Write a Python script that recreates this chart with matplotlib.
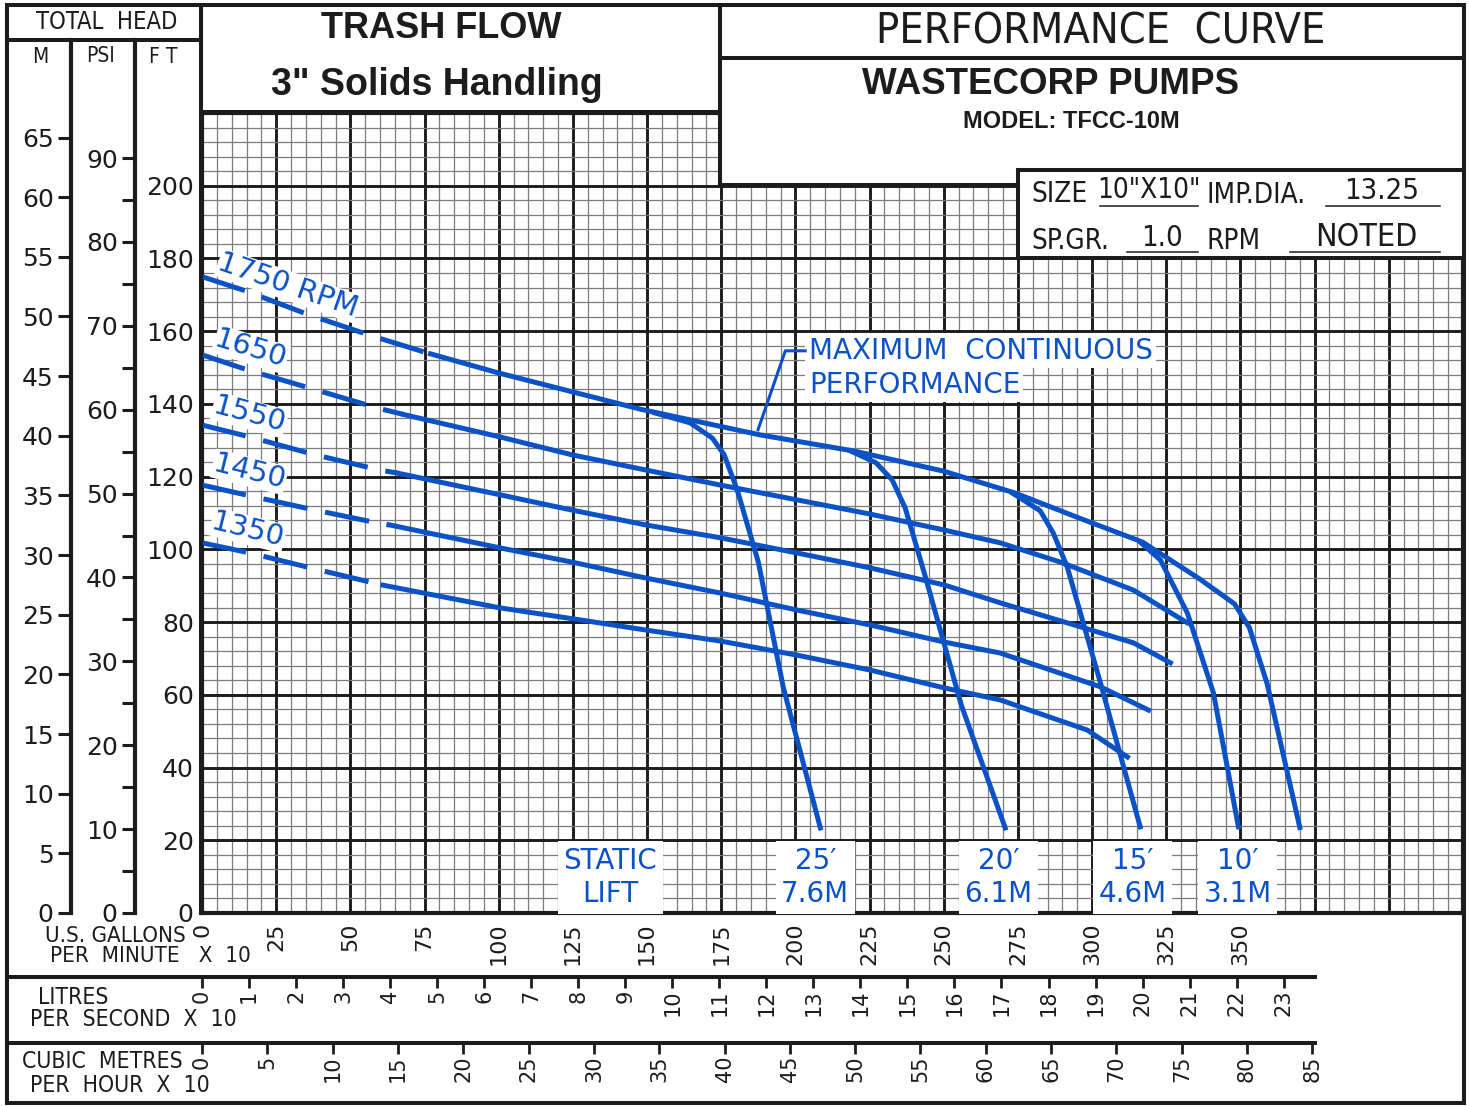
import numpy as np
import matplotlib
matplotlib.use('Agg')
import matplotlib.pyplot as plt
from matplotlib.ticker import MultipleLocator, FuncFormatter
from matplotlib.patches import Rectangle

# flow in US GPM x 10, head in feet
rpm_labels = ['1750 RPM', '1650', '1550', '1450', '1350']
gpm_1750 = [0, 15, 36, 58, 76, 100, 124, 148, 168, 188, 220, 250, 274, 296, 317, 336, 348, 353, 359, 370]
ft_1750 = [175, 171, 164.5, 158.5, 154, 148.5, 143.5, 138.5, 135, 131.5, 127, 121.5, 115.5, 108.5, 102, 92, 85, 78.5, 63, 23.5]
gpm_1650 = [0, 15.5, 37.4, 59, 68.4, 100.5, 124.7, 149.7, 174.6, 200.6, 225.2, 250.2, 269, 289.3, 313.9, 332.1]
ft_1650 = [153.5, 149.3, 144.1, 138.9, 137, 130.9, 126, 121.8, 117.7, 113.6, 109.7, 105.3, 101.8, 96.5, 88.8, 79.8]
gpm_1550 = [0, 16.2, 38.1, 60, 65.7, 100.5, 124.7, 149.7, 174.6, 200.6, 225.2, 250.2, 269, 291.6, 313.9, 326.4]
ft_1550 = [134.2, 130.9, 126, 121.8, 121, 115, 110.8, 106.7, 103.2, 99, 94.9, 90.2, 85.3, 79.8, 74.3, 68.8]
gpm_1450 = [0, 16.2, 38.1, 60.7, 63.4, 100.5, 124.7, 149.7, 174.6, 200.6, 225.2, 250.2, 269, 302.8, 319]
ft_1450 = [117.7, 114.7, 110.8, 107, 106.7, 100.4, 96.5, 92.1, 88, 83.3, 79.2, 74.5, 71.5, 62.2, 55.8]
gpm_1350 = [0, 16.2, 38.1, 57.7, 60.7, 100.5, 127.5, 149.7, 174.6, 200.6, 225.2, 250.2, 269, 298.4, 311.9]
ft_1350 = [101.8, 99, 94.6, 90.8, 90.2, 83.9, 80.6, 77.8, 74.8, 70.9, 66.8, 61.9, 58.6, 50.3, 42.9]
dash_end = [77, 68, 66, 63, 61]  # dashed up to this flow

lift_labels = ['25′\n7.6M', '20′\n6.1M', '15′\n4.6M', '10′\n3.1M']
gpm_lift25 = [152.7, 164.5, 172, 176, 180.4, 187.5, 195.9, 208.4]
ft_lift25 = [137.5, 134.8, 130.6, 126, 116.3, 96.5, 62.1, 23.4]
gpm_lift20 = [218.5, 227.2, 232.6, 237, 244.1, 255.9, 270.7]
ft_lift20 = [127.1, 123.8, 119.1, 111.4, 91.6, 57.2, 23.4]
gpm_lift15 = [273.1, 282.5, 286.9, 291.6, 302.8, 316.2]
ft_lift15 = [115.5, 110.6, 104.5, 95.2, 63.3, 23.7]
gpm_lift10 = [316.2, 323, 332.1, 340.9, 349.3]
ft_lift10 = [102, 97.1, 82.5, 60.5, 23.7]

gpm_ticks = list(range(0, 351, 25))
ls_ticks = list(range(0, 24))
m3h_ticks = list(range(0, 86, 5))
m_ticks = list(range(0, 66, 5))
psi_ticks = list(range(0, 91, 5))

FT_PER_M = 3.28084
FT_PER_PSI = 2.30666
GPM_PER_LS = 15.8503
GPM_PER_M3H = 4.40287

BLUE = '#0b52c6'
INK = '#1c1c1c'
W, H = 1469, 1106
GX0, GX1, GY0, GY1 = 202, 1463, 113, 913
XMAX, YMAX = 425, 220


def box(x0, y0, x1, y1):
    return [x0 / W, 1 - y1 / H, (x1 - x0) / W, (y1 - y0) / H]


tech = dict(family='DejaVu Sans', fontstretch='condensed')
hand = dict(family='DejaVu Sans', color=BLUE, zorder=3)
fig = plt.figure(figsize=(W / 100, H / 100), dpi=100)

# main grid
ax = fig.add_axes(box(GX0, GY0, GX1, GY1))
ax.set_xlim(0, XMAX)
ax.set_ylim(0, YMAX)
ax.set_xticks(np.arange(0, XMAX + 1, 25))
ax.xaxis.set_minor_locator(MultipleLocator(5))
ax.yaxis.set_major_locator(MultipleLocator(20))
ax.yaxis.set_minor_locator(MultipleLocator(4))
ax.xaxis.set_major_formatter(FuncFormatter(lambda v, p: f'{v:.0f}' if v <= gpm_ticks[-1] else ''))
ax.yaxis.set_major_formatter(FuncFormatter(lambda v, p: f'{v:.0f}' if v <= 200 else ''))
ax.grid(which='major', color=INK, lw=2.1)
ax.grid(which='minor', color='#7c7c7c', lw=0.9)
ax.set_axisbelow(True)
ax.tick_params(axis='both', which='both', length=0)
ax.tick_params(axis='x', pad=7, labelrotation=90, labelsize=16, labelcolor=INK)
ax.tick_params(axis='y', pad=6, labelsize=18, labelcolor=INK)
for s in ax.spines.values():
    s.set_linewidth(3)
    s.set_color(INK)

curves = [(gpm_1750, ft_1750), (gpm_1650, ft_1650), (gpm_1550, ft_1550),
          (gpm_1450, ft_1450), (gpm_1350, ft_1350)]
for (g, f), d in zip(curves, dash_end):
    g = np.array(g, float)
    f = np.array(f, float)
    fd = np.interp(d, g, f)
    m = g < d
    ax.plot(np.r_[g[m], d], np.r_[f[m], fd], color=BLUE, lw=3.6,
            dashes=(9, 3.6), solid_capstyle='butt', zorder=4)
    ax.plot(np.r_[d, g[~m]], np.r_[fd, f[~m]], color=BLUE, lw=3.6,
            solid_joinstyle='round', zorder=4)

for g, f in [(gpm_lift25, ft_lift25), (gpm_lift20, ft_lift20),
             (gpm_lift15, ft_lift15), (gpm_lift10, ft_lift10)]:
    ax.plot(g, f, color=BLUE, lw=3.6, solid_joinstyle='round', zorder=4)

# speed labels
lab_pos = [(29, 172.5, -19), (16.5, 155, -17), (16, 137, -15), (16, 121.3, -14), (15.5, 105.3, -14)]
for t, (x, y, r) in zip(rpm_labels, lab_pos):
    ax.text(x, y, t, fontsize=21, rotation=r, ha='center', va='center',
            rotation_mode='anchor', **hand, bbox=dict(fc='white', ec='none', pad=0.5))

# static lift labels
ax.text(137.6, 9.8, 'STATIC\nLIFT', fontsize=20, ha='center', va='center',
        linespacing=1.25, **hand, bbox=dict(fc='white', ec='none', pad=4))
for t, x in zip(lift_labels, [206.7, 268.4, 313.6, 349.0]):
    ax.text(x, 9.8, t, fontsize=20, ha='center', va='center',
            linespacing=1.25, **hand, bbox=dict(fc='white', ec='none', pad=4))

# max continuous performance note
ax.text(204.5, 154.6, 'MAXIMUM  CONTINUOUS', fontsize=20, ha='left', va='center',
        **hand, bbox=dict(fc='white', ec='none', pad=2.5))
ax.text(204.5, 145.2, 'PERFORMANCE', fontsize=20, ha='left', va='center',
        **hand, bbox=dict(fc='white', ec='none', pad=2.5))
ax.plot([187.4, 196.6, 203.3], [132.9, 154.6, 154.6], color=BLUE, lw=2.2, zorder=4)

# head scales in metres and psi
ft_top = YMAX * (GY1 - 40) / (GY1 - GY0)
for xline, conv, ticks, every in [(71, FT_PER_M, m_ticks, 5), (135, FT_PER_PSI, psi_ticks, 10)]:
    a = fig.add_axes(box(xline, 40, xline + 1, GY1))
    a.set_ylim(0, ft_top / conv)
    a.set_xticks([])
    a.set_yticks(ticks)
    a.set_yticklabels([str(t) if t % every == 0 else '' for t in ticks])
    a.tick_params(axis='y', direction='out', length=9.5, width=2.2, pad=3,
                  labelsize=18, color=INK, labelcolor=INK)
    a.patch.set_visible(False)
    for k, s in a.spines.items():
        s.set_visible(k == 'left')
    a.spines['left'].set_linewidth(3)
    a.spines['left'].set_color(INK)

# flow scales in l/s and m3/h
for ytop, conv, ticks in [(977, GPM_PER_LS, ls_ticks), (1043, GPM_PER_M3H, m3h_ticks)]:
    a = fig.add_axes(box(GX0, ytop - 1, GX1, ytop))
    a.set_xlim(0, XMAX / conv)
    a.set_yticks([])
    a.set_xticks(ticks)
    a.tick_params(axis='x', direction='out', length=8, width=2, pad=1, labelrotation=90,
                  labelsize=15, color=INK, labelcolor=INK)
    a.patch.set_visible(False)
    for s in a.spines.values():
        s.set_visible(False)

# frame, title block
ov = fig.add_axes([0, 0, 1, 1], zorder=5)
ov.set_xlim(0, W)
ov.set_ylim(H, 0)
ov.axis('off')
ov.patch.set_visible(False)
for x0, y0, x1, y1 in [(201, 4, 720, 112), (720, 4, 1464, 185), (1018, 170, 1464, 258)]:
    ov.add_patch(Rectangle((x0, y0), x1 - x0, y1 - y0, fc='white', ec='none'))
ov.add_patch(Rectangle((7, 5), 1457, 1098, fc='none', ec=INK, lw=2.9))
frame = [((7, 201), (40, 40)), ((201, 201), (5, 913)), ((201, 720), (112, 112)),
         ((720, 720), (5, 185)), ((720, 1464), (58, 58)), ((720, 1018), (185, 185)),
         ((1018, 1018), (170, 258)), ((1018, 1464), (170, 170)), ((1018, 1464), (258, 258)),
         ((7, 1315), (977, 977)), ((7, 1315), (1043, 1043))]
for xs, ys in frame:
    ov.plot(xs, ys, color=INK, lw=2.9, solid_capstyle='projecting')
for xs, y in [((1100, 1198), 206), ((1326, 1440), 206), ((1127, 1198), 252), ((1290, 1440), 252)]:
    ov.plot(xs, (y, y), color=INK, lw=1.1)

bold = dict(family='Liberation Sans', fontweight='bold', color=INK, ha='center', va='center')
ov.text(441, 29, 'TRASH FLOW', fontsize=26, **bold)
ov.text(437, 85, '3" Solids Handling', fontsize=27, **bold)
ov.text(1051, 85, 'WASTECORP PUMPS', fontsize=26.5, **bold)
ov.text(1071, 121, 'MODEL: TFCC-10M', fontsize=17, **bold)

plain = dict(color=INK, va='center', **tech)
ov.text(1101, 32, 'PERFORMANCE  CURVE', fontsize=31, ha='center', **plain)
ov.text(107, 22, 'TOTAL  HEAD', fontsize=17, ha='center', **plain)
ov.text(40, 57, 'M', fontsize=15, ha='center', **plain)
ov.text(101, 56, 'PSI', fontsize=15, ha='center', **plain)
ov.text(163, 57, 'F T', fontsize=15, ha='center', **plain)
ov.text(1031, 194, 'SIZE', fontsize=20, ha='left', **plain)
ov.text(1149, 190, '10"X10"', fontsize=20, ha='center', **plain)
ov.text(1207, 195, 'IMP.DIA.', fontsize=20, ha='left', **plain)
ov.text(1382, 191, '13.25', fontsize=21, ha='center', **plain)
ov.text(1031, 241, 'SP.GR.', fontsize=20, ha='left', **plain)
ov.text(1162, 238, '1.0', fontsize=21, ha='center', **plain)
ov.text(1207, 241, 'RPM', fontsize=20, ha='left', **plain)
ov.text(1366, 237, 'NOTED', fontsize=23, ha='center', **plain)
ov.text(115, 936, 'U.S. GALLONS', fontsize=16, ha='center', **plain)
ov.text(50, 956, 'PER  MINUTE   X  10', fontsize=16, ha='left', **plain)
ov.text(38, 997, 'LITRES', fontsize=16.5, ha='left', **plain)
ov.text(30, 1019, 'PER  SECOND  X  10', fontsize=16.5, ha='left', **plain)
ov.text(22, 1061, 'CUBIC  METRES', fontsize=16.5, ha='left', **plain)
ov.text(30, 1086, 'PER  HOUR  X  10', fontsize=16.5, ha='left', **plain)

fig.savefig('out.png', dpi=100)
